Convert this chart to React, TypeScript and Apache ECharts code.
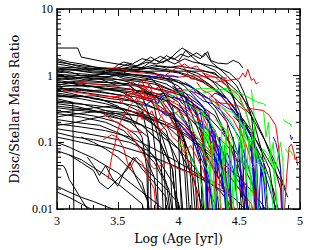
import React, { useEffect, useRef } from "react";
import * as echarts from "echarts";

const X_MIN = 3;
const X_MAX = 5;
const X_LABELS = ["3", "3.5", "4", "4.5", "5"];
const Y_LABELS = ["0.01", "0.1", "1", "10"];
const Y_MINOR = [
  0.02, 0.03, 0.04, 0.05, 0.06, 0.07, 0.08, 0.09,
  0.2, 0.3, 0.4, 0.5, 0.6, 0.7, 0.8, 0.9,
  2, 3, 4, 5, 6, 7, 8, 9,
];
const X_TITLE = "Log (Age [yr])";
const Y_TITLE = "Disc/Stellar Mass Ratio";

// Each track: flat list of [log age, ratio] pairs
const BLACK_LINES: number[][] = [
  [3,2.6, 3.17,2.6, 3.2,1.9, 3.4,1.6, 3.6,1.4, 3.8,1.25, 4.0,1.1, 4.2,0.8, 4.4,0.45, 4.6,0.15, 4.75,0.04, 4.82,0.005],
  [3,1.8, 3.1,1.6, 3.2,1.5, 3.35,1.3, 3.5,1.2, 3.7,1.15, 3.9,1.0, 4.05,0.7, 4.2,0.35, 4.3,0.12, 4.38,0.03, 4.42,0.005],
  [3,1.6, 3.15,1.45, 3.3,1.35, 3.5,1.25, 3.65,1.2, 3.8,1.1, 3.95,0.8, 4.05,0.4, 4.12,0.1, 4.16,0.005],
  [3,1.35, 3.2,1.3, 3.4,1.2, 3.6,1.15, 3.8,1.17, 4.0,1.17, 4.2,1.17, 4.3,1.1, 4.4,0.7, 4.5,0.3, 4.6,0.08, 4.65,0.005],
  [3,1.2, 3.1,1.1, 3.25,1.05, 3.4,0.95, 3.48,1.02, 3.55,0.9, 3.7,0.85, 3.78,0.9, 3.85,0.65, 3.95,0.35, 4.0,0.12, 4.03,0.005],
  [3,1.1, 3.1,1.15, 3.2,1.0, 3.35,0.95, 3.5,1.0, 3.65,0.9, 3.8,0.8, 3.95,0.6, 4.02,0.65, 4.1,0.3, 4.2,0.1, 4.25,0.005],
  [3,1.0, 3.15,0.95, 3.3,0.9, 3.45,0.85, 3.6,0.7, 3.7,0.5, 3.78,0.2, 3.82,0.05, 3.84,0.005],
  [3,0.95, 3.1,1.0, 3.25,0.85, 3.4,0.8, 3.55,0.75, 3.62,0.8, 3.7,0.65, 3.85,0.45, 4.0,0.2, 4.1,0.06, 4.15,0.005],
  [3,0.9, 3.2,0.85, 3.35,0.9, 3.5,0.7, 3.58,0.75, 3.65,0.6, 3.8,0.5, 3.88,0.55, 3.95,0.3, 4.05,0.1, 4.1,0.005],
  [3,0.85, 3.1,0.8, 3.3,0.75, 3.5,0.72, 3.7,0.7, 3.9,0.6, 4.1,0.45, 4.3,0.25, 4.45,0.08, 4.55,0.02, 4.6,0.005],
  [3,0.8, 3.2,0.75, 3.35,0.65, 3.5,0.6, 3.6,0.5, 3.7,0.3, 3.76,0.1, 3.78,0.005],
  [3,0.75, 3.15,0.7, 3.3,0.7, 3.45,0.6, 3.6,0.55, 3.75,0.45, 3.82,0.48, 3.9,0.3, 4.0,0.15, 4.05,0.04, 4.08,0.005],
  [3,0.7, 3.1,0.6, 3.25,0.55, 3.4,0.5, 3.55,0.45, 3.7,0.4, 3.85,0.3, 4.0,0.2, 4.15,0.1, 4.3,0.04, 4.4,0.015, 4.45,0.005],
  [3,0.65, 3.2,0.6, 3.4,0.55, 3.55,0.5, 3.7,0.35, 3.8,0.2, 3.88,0.06, 3.9,0.005],
  [3,0.6, 3.1,0.55, 3.3,0.45, 3.5,0.4, 3.65,0.35, 3.8,0.25, 3.9,0.15, 3.97,0.05, 4.0,0.005],
  [3,0.55, 3.15,0.5, 3.35,0.45, 3.5,0.35, 3.6,0.25, 3.7,0.12, 3.74,0.04, 3.75,0.005],
  [3,0.5, 3.2,0.45, 3.4,0.38, 3.6,0.3, 3.8,0.22, 4.0,0.15, 4.2,0.08, 4.4,0.035, 4.55,0.015, 4.62,0.005],
  [3,0.45, 3.13,0.4, 3.14,0.005],
  [3,0.42, 3.2,0.38, 3.4,0.3, 3.55,0.25, 3.7,0.18, 3.85,0.1, 3.95,0.04, 4.0,0.005],
  [3,0.38, 3.15,0.35, 3.3,0.3, 3.45,0.25, 3.6,0.2, 3.75,0.12, 3.75,0.005],
  [3,0.35, 3.2,0.32, 3.4,0.28, 3.6,0.22, 3.8,0.15, 4.0,0.08, 4.2,0.03, 4.3,0.012, 4.33,0.005],
  [3,0.3, 3.1,0.28, 3.3,0.25, 3.5,0.2, 3.65,0.13, 3.8,0.06, 3.9,0.025, 3.95,0.005],
  [3,0.27, 3.2,0.24, 3.4,0.2, 3.55,0.15, 3.7,0.08, 3.8,0.03, 3.85,0.005],
  [3,0.22, 3.15,0.2, 3.35,0.18, 3.5,0.14, 3.65,0.1, 3.8,0.05, 3.92,0.02, 3.97,0.005],
  [3,0.18, 3.1,0.19, 3.25,0.22, 3.4,0.25, 3.55,0.22, 3.7,0.18, 3.85,0.1, 3.95,0.04, 4.0,0.005],
  [3,0.19, 3.2,0.17, 3.4,0.15, 3.6,0.12, 3.8,0.08, 4.0,0.05, 4.2,0.03, 4.35,0.018, 4.45,0.01, 4.5,0.005],
  [3,1.5, 3.1,1.4, 3.25,1.2, 3.4,1.15, 3.55,1.1, 3.7,1.0, 3.85,0.95, 4.0,0.85, 4.15,0.6, 4.3,0.3, 4.42,0.1, 4.5,0.03, 4.53,0.005],
  [3,1.25, 3.15,1.2, 3.3,1.1, 3.5,1.05, 3.7,1.02, 3.9,0.9, 4.1,0.7, 4.25,0.45, 4.4,0.2, 4.5,0.06, 4.55,0.005],
  [3,1.05, 3.2,1.0, 3.4,1.05, 3.6,1.0, 3.75,0.9, 3.9,0.75, 4.05,0.5, 4.15,0.25, 4.22,0.08, 4.25,0.005],
  [3,0.88, 3.2,0.95, 3.4,0.9, 3.6,0.85, 3.8,0.75, 4.0,0.55, 4.15,0.35, 4.3,0.15, 4.4,0.05, 4.45,0.005],
  [3,0.78, 3.15,0.82, 3.3,0.8, 3.5,0.78, 3.7,0.72, 3.85,0.6, 4.0,0.4, 4.1,0.2, 4.18,0.06, 4.2,0.005],
  [3,0.68, 3.2,0.72, 3.4,0.65, 3.6,0.62, 3.8,0.55, 4.0,0.45, 4.2,0.3, 4.35,0.15, 4.5,0.06, 4.6,0.025, 4.68,0.01, 4.7,0.005],
  [3,0.58, 3.2,0.62, 3.35,0.58, 3.5,0.52, 3.65,0.48, 3.8,0.4, 3.95,0.25, 4.05,0.1, 4.1,0.03, 4.12,0.005],
  [3,0.52, 3.15,0.48, 3.3,0.5, 3.45,0.45, 3.6,0.42, 3.75,0.35, 3.9,0.28, 4.05,0.18, 4.2,0.09, 4.3,0.035, 4.35,0.005],
  [3,0.48, 3.2,0.5, 3.4,0.42, 3.55,0.38, 3.7,0.28, 3.85,0.15, 3.93,0.05, 3.96,0.005],
  [3,0.4, 3.15,0.38, 3.3,0.36, 3.5,0.32, 3.7,0.27, 3.9,0.2, 4.1,0.12, 4.3,0.06, 4.5,0.03, 4.65,0.015, 4.75,0.008],
  [3,0.33, 3.2,0.3, 3.35,0.28, 3.5,0.27, 3.7,0.25, 3.9,0.18, 4.05,0.1, 4.15,0.04, 4.2,0.005],
  [3,1.7, 3.1,1.5, 3.2,1.35, 3.35,1.25, 3.5,1.3, 3.65,1.25, 3.8,1.3, 3.95,1.2, 4.1,1.0, 4.25,0.75, 4.4,0.45, 4.55,0.2, 4.65,0.07, 4.72,0.02, 4.75,0.005],
  [3,1.3, 3.2,1.22, 3.4,1.3, 3.55,1.2, 3.7,1.25, 3.85,1.4, 4.0,1.3, 4.15,1.1, 4.3,0.8, 4.45,0.5, 4.6,0.25, 4.72,0.1, 4.82,0.04, 4.88,0.02],
  [3,1.15, 3.1,1.25, 3.25,1.15, 3.45,1.1, 3.6,1.05, 3.75,0.95, 3.9,0.85, 4.0,0.7, 4.1,0.45, 4.18,0.2, 4.23,0.05, 4.25,0.005],
  [3,0.98, 3.15,0.9, 3.3,1.0, 3.45,0.92, 3.6,0.8, 3.72,0.6, 3.8,0.35, 3.85,0.12, 3.88,0.005],
  [3,0.72, 3.1,0.78, 3.25,0.68, 3.4,0.7, 3.55,0.65, 3.7,0.58, 3.85,0.48, 4.0,0.32, 4.1,0.15, 4.18,0.05, 4.22,0.005],
  [3,0.62, 3.15,0.65, 3.3,0.6, 3.45,0.62, 3.6,0.58, 3.75,0.52, 3.9,0.42, 4.05,0.28, 4.2,0.14, 4.3,0.06, 4.38,0.02, 4.4,0.005],
  [3,0.28, 3.15,0.3, 3.3,0.33, 3.45,0.35, 3.6,0.3, 3.75,0.22, 3.9,0.12, 4.0,0.05, 4.05,0.005],
  [3,0.24, 3.1,0.26, 3.25,0.28, 3.4,0.3, 3.55,0.28, 3.7,0.24, 3.85,0.16, 4.0,0.08, 4.12,0.03, 4.2,0.01, 4.22,0.005],
  [3.45,1.2, 3.5,1.45, 3.55,1.6, 3.62,1.5, 3.7,1.8, 3.78,1.65, 3.85,1.95, 3.92,1.7, 3.98,2.2, 4.03,2.6, 4.08,2.3, 4.13,2.0, 4.18,1.8, 4.22,2.2, 4.26,1.7, 4.32,1.55, 4.4,1.5, 4.45,1.7, 4.5,1.55, 4.53,1.3],
  [3.55,1.1, 3.62,1.3, 3.7,1.55, 3.77,1.9, 3.84,1.6, 3.9,2.0, 3.96,1.75, 4.02,2.1, 4.08,1.9, 4.15,2.2, 4.2,1.9, 4.24,2.3, 4.27,1.6, 4.33,1.3, 4.4,1.0, 4.48,0.7, 4.55,0.4, 4.62,0.2, 4.68,0.08, 4.72,0.03, 4.74,0.005],
  [3.5,1.3, 3.58,1.5, 3.66,1.4, 3.74,1.6, 3.82,1.5, 3.9,1.7, 3.97,1.5, 4.05,1.8, 4.12,1.6, 4.2,1.5, 4.28,1.4, 4.35,1.25, 4.42,1.1, 4.5,0.8, 4.55,0.5, 4.6,0.25, 4.63,0.08, 4.65,0.005],
  [3.65,1.2, 3.72,1.4, 3.8,1.75, 3.87,1.55, 3.94,1.9, 4.0,1.65, 4.06,2.4, 4.1,2.0, 4.16,1.6, 4.22,1.4, 4.3,1.2, 4.38,0.9, 4.45,0.5, 4.5,0.2, 4.53,0.05, 4.55,0.005],
  [3.3,1.0, 3.4,1.1, 3.5,1.25, 3.6,1.35, 3.7,1.3, 3.8,1.45, 3.9,1.3, 4.0,1.4, 4.1,1.3, 4.2,1.2, 4.3,1.05, 4.4,0.8, 4.5,0.55, 4.6,0.3, 4.7,0.12, 4.78,0.05, 4.84,0.02, 4.86,0.005],
  [4.05,1.2, 4.15,1.0, 4.25,0.75, 4.35,0.5, 4.45,0.3, 4.55,0.18, 4.65,0.1, 4.75,0.05, 4.85,0.025, 4.9,0.015],
  [4.2,1.1, 4.3,0.75, 4.4,0.45, 4.5,0.25, 4.6,0.12, 4.7,0.05, 4.78,0.02, 4.82,0.01, 4.84,0.005],
  [3,0.1, 3.1,0.085, 3.2,0.07, 3.3,0.058, 3.4,0.045, 3.5,0.035, 3.6,0.025, 3.7,0.018, 3.8,0.013, 3.87,0.01, 3.9,0.005],
  [3,0.12, 3.1,0.11, 3.2,0.1, 3.3,0.092, 3.4,0.085, 3.5,0.075, 3.6,0.06, 3.7,0.045, 3.8,0.03, 3.9,0.02, 4.0,0.012, 4.05,0.005],
  [3,0.075, 3.1,0.065, 3.2,0.055, 3.3,0.042, 3.4,0.032, 3.5,0.024, 3.6,0.017, 3.7,0.012, 3.75,0.005],
  [3,0.045, 3.05,0.045, 3.07,0.04, 3.1,0.028, 3.15,0.02, 3.2,0.014, 3.25,0.01, 3.28,0.005],
  [3,0.022, 3.1,0.018, 3.2,0.015, 3.3,0.013, 3.4,0.011, 3.46,0.01, 3.5,0.005],
  [3,0.018, 3.1,0.015, 3.2,0.012, 3.28,0.01, 3.3,0.005],
  [3.25,0.06, 3.3,0.045, 3.35,0.032, 3.4,0.045, 3.45,0.03, 3.5,0.022, 3.55,0.035, 3.6,0.05, 3.65,0.03, 3.7,0.02, 3.75,0.013, 3.78,0.005],
  [3.1,0.065, 3.2,0.05, 3.3,0.038, 3.35,0.025, 3.42,0.02, 3.5,0.028, 3.58,0.04, 3.63,0.06, 3.7,0.04, 3.8,0.025, 3.9,0.015, 3.95,0.005],
  [3,0.14, 3.15,0.12, 3.3,0.11, 3.5,0.09, 3.7,0.07, 3.9,0.05, 4.1,0.035, 4.3,0.022, 4.45,0.015, 4.55,0.01, 4.6,0.005],
  [3,0.16, 3.2,0.14, 3.4,0.12, 3.6,0.1, 3.75,0.075, 3.85,0.05, 3.95,0.025, 4.0,0.012, 4.02,0.005],
  [3.2,0.12, 3.3,0.1, 3.4,0.08, 3.5,0.06, 3.6,0.04, 3.7,0.025, 3.75,0.012, 3.77,0.005],
];

const RED_LINES: number[][] = [
  [3.05,0.6, 3.2,0.55, 3.35,0.5, 3.5,0.48, 3.65,0.55, 3.75,0.45, 3.85,0.3, 3.95,0.25, 4.05,0.18, 4.15,0.1, 4.25,0.05, 4.35,0.025, 4.45,0.012, 4.5,0.005],
  [3.42,1.3, 3.5,1.3, 3.6,1.15, 3.7,1.1, 3.8,1.05, 3.9,1.0, 4.0,0.95, 4.1,1.0, 4.2,0.98, 4.3,0.95, 4.4,0.92],
  [3.15,0.82, 3.3,0.75, 3.45,0.7, 3.6,0.72, 3.75,0.68, 3.85,0.6, 3.95,0.55, 4.05,0.62, 4.15,0.55, 4.25,0.45, 4.35,0.35, 4.45,0.22, 4.55,0.1, 4.62,0.04, 4.66,0.005],
  [4.3,0.8, 4.4,0.85, 4.5,0.9, 4.53,1.1, 4.55,0.95, 4.57,1.25, 4.6,0.85, 4.62,0.9, 4.64,0.75, 4.66,0.8],
  [3.85,0.9, 3.95,1.2, 4.05,1.5, 4.1,1.3, 4.15,1.4, 4.2,1.1, 4.3,0.95, 4.4,0.7, 4.5,0.5, 4.55,0.3, 4.6,0.32, 4.7,0.3, 4.75,0.25, 4.8,0.18, 4.82,0.1, 4.84,0.04, 4.85,0.005],
  [3.38,0.11, 3.45,0.13, 3.5,0.12, 3.55,0.08, 3.58,0.05, 3.6,0.04, 3.65,0.06, 3.7,0.05, 3.75,0.03, 3.8,0.02, 3.83,0.005],
  [3.42,0.028, 3.45,0.06, 3.48,0.1, 3.5,0.15, 3.52,0.2, 3.55,0.25, 3.6,0.3, 3.65,0.28, 3.7,0.35, 3.73,0.55, 3.76,0.4, 3.8,0.45, 3.85,0.3, 3.9,0.35, 3.95,0.25, 4.0,0.3, 4.05,0.2, 4.1,0.15, 4.2,0.1, 4.3,0.06, 4.4,0.035, 4.5,0.02, 4.6,0.012, 4.65,0.005],
  [3.58,0.15, 3.62,0.12, 3.66,0.09, 3.7,0.07, 3.75,0.05, 3.8,0.04, 3.9,0.05, 4.0,0.04, 4.1,0.035, 4.2,0.03, 4.3,0.025, 4.4,0.02],
  [3.55,0.25, 3.6,0.35, 3.65,0.45, 3.7,0.55, 3.72,0.7, 3.75,0.6, 3.8,0.55, 3.88,0.48, 3.95,0.4, 4.02,0.35, 4.1,0.28, 4.2,0.2, 4.3,0.1, 4.38,0.04, 4.42,0.015, 4.44,0.005],
  [3.7,0.9, 3.75,0.75, 3.8,0.5, 3.82,0.35, 3.85,0.25, 3.9,0.3, 3.95,0.2, 4.0,0.15, 4.05,0.08, 4.1,0.04, 4.15,0.018, 4.18,0.005],
  [3.9,0.5, 3.95,0.4, 4.0,0.45, 4.05,0.35, 4.1,0.3, 4.15,0.33, 4.2,0.25, 4.25,0.15, 4.28,0.06, 4.3,0.015, 4.31,0.005],
  [4.86,0.005, 4.88,0.015, 4.89,0.03, 4.91,0.085, 4.93,0.095, 4.95,0.07, 4.96,0.055, 4.97,0.06, 4.98,0.045],
  [3.8,0.22, 3.85,0.15, 3.9,0.18, 3.95,0.12, 4.0,0.1, 4.05,0.07, 4.1,0.09, 4.15,0.06, 4.2,0.04, 4.25,0.02, 4.27,0.005],
  [3.95,0.7, 4.0,0.6, 4.05,0.5, 4.1,0.45, 4.15,0.3, 4.2,0.12, 4.22,0.04, 4.23,0.005],
  [4.15,0.8, 4.2,0.6, 4.25,0.55, 4.3,0.45, 4.35,0.3, 4.4,0.2, 4.42,0.08, 4.43,0.02, 4.44,0.005],
  [4.0,1.6, 4.05,1.3, 4.1,0.9, 4.2,0.85, 4.3,0.6, 4.4,0.4, 4.5,0.2, 4.55,0.08, 4.57,0.005],
  [3.55,0.6, 3.6,0.65, 3.67,0.5, 3.72,0.45, 3.78,0.5, 3.85,0.4, 3.9,0.42, 4.0,0.3, 4.1,0.22, 4.2,0.17, 4.3,0.13, 4.4,0.09, 4.5,0.05, 4.55,0.02, 4.57,0.005],
  [3.38,0.27, 3.45,0.22, 3.55,0.17, 3.6,0.15, 3.7,0.14],
  [4.3,0.4, 4.4,0.38, 4.5,0.35, 4.55,0.3, 4.6,0.15, 4.62,0.05, 4.63,0.005],
  [3.45,0.45, 3.5,0.5, 3.53,0.38, 3.57,0.55, 3.6,0.42, 3.63,0.6, 3.67,0.4, 3.7,0.65, 3.73,0.45, 3.77,0.5, 3.8,0.35, 3.85,0.42, 3.9,0.3],
  [3.6,0.8, 3.65,0.7, 3.7,0.85, 3.73,0.6, 3.76,0.75, 3.8,0.62, 3.85,0.7, 3.9,0.55, 3.95,0.6, 4.0,0.45],
  [3.65,0.2, 3.68,0.28, 3.7,0.22, 3.72,0.32, 3.75,0.25, 3.78,0.3, 3.82,0.2, 3.86,0.25, 3.9,0.18, 3.95,0.2, 4.0,0.14, 4.05,0.16, 4.1,0.11],
  [4.25,0.3, 4.27,0.05, 4.29,0.15, 4.31,0.02, 4.33,0.08, 4.35,0.005],
];

const BLUE_LINES: number[][] = [
  [3.72,0.35, 3.76,0.4, 3.8,0.45, 3.83,0.38, 3.86,0.5, 3.9,0.42, 3.95,0.3, 4.0,0.25, 4.05,0.2, 4.1,0.15, 4.15,0.1, 4.2,0.06, 4.25,0.03, 4.28,0.012, 4.3,0.005],
  [3.75,1.0, 3.8,0.95, 3.85,1.05, 3.9,0.98, 3.95,1.0, 4.0,0.95],
  [3.9,0.55, 3.95,0.5, 4.0,0.45, 4.05,0.5, 4.1,0.4, 4.15,0.35, 4.2,0.3, 4.25,0.2, 4.3,0.12, 4.35,0.05, 4.38,0.015, 4.4,0.005],
  [4.05,0.8, 4.1,0.7, 4.15,0.55, 4.2,0.5, 4.25,0.45, 4.3,0.55, 4.35,0.5, 4.4,0.45, 4.45,0.35, 4.5,0.25, 4.55,0.15, 4.6,0.07, 4.63,0.025, 4.65,0.005],
  [3.85,0.3, 3.9,0.25, 3.95,0.28, 4.0,0.2, 4.05,0.15, 4.1,0.12, 4.15,0.08, 4.2,0.05, 4.25,0.025, 4.28,0.01, 4.3,0.005],
  [4.0,0.35, 4.05,0.3, 4.1,0.25, 4.15,0.2, 4.2,0.16, 4.25,0.12, 4.3,0.08, 4.35,0.05, 4.4,0.07, 4.45,0.04, 4.48,0.015, 4.5,0.005],
  [4.1,0.6, 4.15,0.5, 4.2,0.42, 4.28,0.38, 4.35,0.3, 4.42,0.2, 4.5,0.12, 4.55,0.06, 4.6,0.03, 4.63,0.012, 4.65,0.005],
  [4.3,0.45, 4.35,0.38, 4.4,0.33, 4.45,0.3, 4.5,0.22, 4.55,0.18, 4.6,0.12, 4.65,0.06, 4.7,0.03, 4.72,0.01, 4.73,0.005],
  [4.45,0.25, 4.5,0.2, 4.55,0.14, 4.6,0.1, 4.65,0.07, 4.7,0.04, 4.75,0.02, 4.8,0.01, 4.82,0.005],
  [4.78,0.12, 4.8,0.1, 4.82,0.07, 4.84,0.04, 4.85,0.02, 4.86,0.005],
  [4.92,0.13, 4.93,0.11, 4.94,0.12],
  [3.8,0.013, 3.83,0.012],
  [3.95,0.7, 4.0,0.6, 4.05,0.55, 4.1,0.5, 4.15,0.42, 4.2,0.35, 4.25,0.25, 4.28,0.12, 4.3,0.05, 4.32,0.005],
  [4.15,0.2, 4.2,0.18, 4.25,0.15, 4.3,0.1, 4.35,0.08, 4.4,0.05, 4.45,0.035, 4.5,0.025, 4.55,0.015, 4.58,0.005],
  [4.3,0.15, 4.32,0.03, 4.34,0.12, 4.36,0.02, 4.38,0.09, 4.4,0.01, 4.42,0.06, 4.44,0.005],
  [4.45,0.12, 4.47,0.02, 4.5,0.1, 4.52,0.015, 4.55,0.08, 4.57,0.005],
  [4.6,0.1, 4.62,0.02, 4.64,0.07, 4.66,0.01, 4.68,0.05, 4.7,0.005],
  [4.0,0.45, 4.03,0.38, 4.06,0.42, 4.09,0.3, 4.12,0.35, 4.15,0.25, 4.18,0.28, 4.2,0.18, 4.22,0.08, 4.23,0.02, 4.24,0.005],
];

const GREEN_LINES: number[][] = [
  [3.8,0.35, 3.9,0.45, 4.0,0.55, 4.1,0.62, 4.2,0.65, 4.3,0.63, 4.4,0.6, 4.45,0.55, 4.5,0.45, 4.55,0.3, 4.6,0.15, 4.63,0.06, 4.65,0.02, 4.66,0.005],
  [4.2,0.55, 4.3,0.6, 4.4,0.65, 4.45,0.6, 4.5,0.55, 4.55,0.5, 4.6,0.45, 4.65,0.4, 4.7,0.38, 4.72,0.35],
  [4.6,0.62, 4.62,0.3, 4.63,0.1, 4.65,0.05, 4.7,0.04, 4.75,0.03, 4.78,0.01, 4.79,0.005],
  [3.95,0.3, 4.0,0.25, 4.05,0.22, 4.1,0.18, 4.15,0.12, 4.2,0.08, 4.25,0.04, 4.28,0.015, 4.3,0.005],
  [4.05,0.4, 4.1,0.35, 4.15,0.3, 4.2,0.28, 4.25,0.22, 4.3,0.15, 4.35,0.08, 4.38,0.03, 4.4,0.01, 4.41,0.005],
  [4.25,0.5, 4.3,0.4, 4.35,0.3, 4.4,0.25, 4.45,0.18, 4.5,0.1, 4.55,0.05, 4.6,0.03, 4.62,0.012, 4.63,0.005],
  [4.35,0.35, 4.4,0.3, 4.45,0.28, 4.5,0.22, 4.55,0.15, 4.6,0.1, 4.65,0.06, 4.7,0.035, 4.73,0.015, 4.75,0.005],
  [4.5,0.15, 4.55,0.12, 4.6,0.09, 4.65,0.07, 4.7,0.05, 4.75,0.06, 4.78,0.04, 4.8,0.02, 4.82,0.005],
  [4.86,0.22, 4.89,0.2, 4.92,0.19, 4.93,0.17],
  [4.1,0.25, 4.15,0.2, 4.2,0.15, 4.25,0.1, 4.3,0.07, 4.35,0.04, 4.4,0.02, 4.42,0.005],
  [4.2,0.05, 4.25,0.035, 4.3,0.02, 4.35,0.012, 4.37,0.005],
  [4.55,0.05, 4.6,0.04, 4.65,0.05, 4.7,0.08, 4.75,0.06, 4.8,0.04, 4.84,0.1, 4.86,0.05, 4.87,0.005],
  [4.3,0.22, 4.35,0.18, 4.4,0.15, 4.45,0.1, 4.5,0.06, 4.55,0.04, 4.58,0.015, 4.6,0.005],
  [4.0,0.1, 4.05,0.08, 4.1,0.06, 4.15,0.04, 4.2,0.02, 4.23,0.005],
  [4.88,0.08, 4.9,0.07, 4.92,0.075, 4.94,0.065],
  [4.35,0.2, 4.37,0.04, 4.39,0.15, 4.41,0.02, 4.43,0.1, 4.45,0.01, 4.47,0.06, 4.49,0.005],
  [4.5,0.3, 4.52,0.05, 4.54,0.2, 4.56,0.03, 4.58,0.12, 4.6,0.01, 4.62,0.005],
  [4.2,0.3, 4.22,0.08, 4.24,0.2, 4.26,0.03, 4.28,0.1, 4.3,0.005],
  [4.7,0.3, 4.72,0.12, 4.74,0.2, 4.76,0.06, 4.78,0.1, 4.8,0.02, 4.82,0.005],
];

const GROUPS: { lines: number[][]; color: string }[] = [
  { lines: BLACK_LINES, color: "#000000" },
  { lines: RED_LINES, color: "#ff0000" },
  { lines: BLUE_LINES, color: "#0000ff" },
  { lines: GREEN_LINES, color: "#00ff00" },
];

function toPairs(a: number[]): number[][] {
  const out: number[][] = [];
  for (let i = 0; i + 1 < a.length; i += 2) out.push([a[i], a[i + 1]]);
  return out;
}

const SERIF_LABEL = "Liberation Serif";
const SERIF_TITLE = "DejaVu Serif";

export default function App() {
  const ref = useRef<HTMLDivElement>(null);
  useEffect(() => {
    document.body.style.margin = "0";
    if (!ref.current) return;
    const chart = echarts.init(ref.current, undefined, { renderer: "svg" });
    const series: any[] = [];
    GROUPS.forEach((g) => {
      g.lines.forEach((l) => {
        series.push({
          type: "line",
          data: toPairs(l),
          showSymbol: false,
          symbol: "none",
          silent: true,
          clip: true,
          lineStyle: { color: g.color, width: 1 },
        });
      });
    });
    series.push({
      type: "custom",
      silent: true,
      clip: false,
      z: 10,
      data: Y_MINOR.map((v) => [X_MIN, v]),
      renderItem: (_p: any, api: any) => {
        const v = api.value(1);
        const l = api.coord([X_MIN, v]);
        const r = api.coord([X_MAX, v]);
        return {
          type: "group",
          children: [
            { type: "line", shape: { x1: l[0], y1: l[1], x2: l[0] + 4, y2: l[1] }, style: { stroke: "#000", lineWidth: 1 } },
            { type: "line", shape: { x1: r[0] - 4, y1: r[1], x2: r[0], y2: r[1] }, style: { stroke: "#000", lineWidth: 1 } },
          ],
        };
      },
    });

    const axisLine = { show: true, onZero: false, lineStyle: { color: "#000", width: 1.5 } };
    const tick = { show: true, inside: true, length: 7, lineStyle: { color: "#000", width: 1 } };
    const xFormatter = (v: number) => X_LABELS[Math.round((v - X_MIN) / 0.5)] ?? "";
    const yFormatter = (v: number) => Y_LABELS[Math.round(Math.log10(v)) + 2] ?? "";
    const labelStyle = { fontFamily: SERIF_LABEL, fontSize: 12, color: "#000" };
    const nameStyle = { fontFamily: SERIF_TITLE, fontSize: 12.5, color: "#000" };

    chart.setOption({
      animation: false,
      backgroundColor: "#fff",
      grid: { left: 49, right: 16, top: 9, bottom: 39 },
      xAxis: [
        {
          type: "value", min: X_MIN, max: X_MAX, interval: 0.5, position: "bottom",
          axisLine, axisTick: tick,
          minorTick: { show: true, splitNumber: 5, length: 4, lineStyle: { color: "#000", width: 1 } },
          splitLine: { show: false }, minorSplitLine: { show: false },
          axisLabel: { ...labelStyle, margin: 6, formatter: xFormatter, showMinLabel: true, showMaxLabel: true },
          name: X_TITLE, nameLocation: "middle", nameGap: 20, nameTextStyle: nameStyle,
        },
        {
          type: "value", min: X_MIN, max: X_MAX, interval: 0.5, position: "top",
          axisLine, axisTick: tick,
          minorTick: { show: true, splitNumber: 5, length: 4, lineStyle: { color: "#000", width: 1 } },
          splitLine: { show: false }, axisLabel: { show: false },
        },
      ],
      yAxis: [
        {
          type: "log", logBase: 10, min: 0.01, max: 10, position: "left",
          axisLine, axisTick: tick, splitLine: { show: false },
          axisLabel: { ...labelStyle, margin: 4, formatter: yFormatter, showMinLabel: true, showMaxLabel: true },
          name: Y_TITLE, nameLocation: "middle", nameGap: 36, nameRotate: 90, nameTextStyle: nameStyle,
        },
        {
          type: "log", logBase: 10, min: 0.01, max: 10, position: "right",
          axisLine, axisTick: tick, splitLine: { show: false }, axisLabel: { show: false },
        },
      ],
      series,
    });
    return () => chart.dispose();
  }, []);
  return <div ref={ref} style={{ position: "absolute", left: 0, top: 0, width: 316, height: 250 }} />;
}
